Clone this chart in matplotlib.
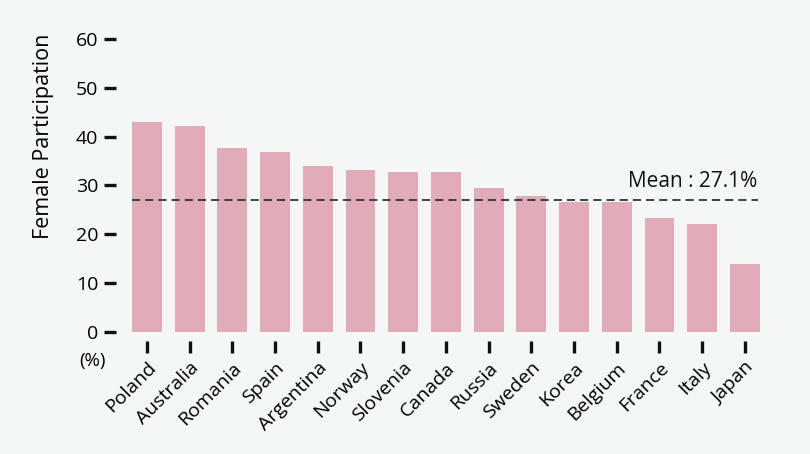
import matplotlib
matplotlib.use("Agg")
import matplotlib.pyplot as plt


# ── Data ─────────────────────────────────────────────────────────────

countries = ["Poland", "Australia", "Romania", "Spain", "Argentina", "Norway",
             "Slovenia", "Canada", "Russia", "Sweden", "Korea", "Belgium",
             "France", "Italy", "Japan"]
participation = [43.0, 42.1, 37.6, 36.8, 34.0, 33.2, 32.75, 32.75, 29.5,
                 27.8, 26.6, 26.6, 23.3, 22.1, 13.9]
mean_value = 27.1
y_ticks = [0, 10, 20, 30, 40, 50, 60]


# ── Plot ─────────────────────────────────────────────────────────────

plt.rcParams["font.family"] = ["Open Sans", "DejaVu Sans"]

bg = "#f5f7f7"
bar_color = "#e2abb8"

fig = plt.figure(figsize=(8.1, 4.54), dpi=100, facecolor=bg)
ax = fig.add_axes([0.155, 0.2698, 0.791, 0.6436], facecolor=bg)

# spines first: set_position resets the tick styling
for side in ["left", "bottom"]:
    ax.spines[side].set_position(("outward", 7))
for side in ["top", "right", "left", "bottom"]:
    ax.spines[side].set_visible(False)

x = list(range(len(countries)))
ax.bar(x, participation, width=0.70, color=bar_color, zorder=1)

# mean line + label
ax.hlines(mean_value, -0.35, 14.3, colors="#333333", linewidth=1.3,
          linestyles=(0, (4.5, 2.8)), zorder=2)
ax.text(14.3, mean_value + 2.5, f"Mean : {mean_value}%", ha="right",
        va="baseline", fontsize=15, color="#111111")

ax.set_xlim(-0.5, len(countries) - 0.5)
ax.set_ylim(0, 60)
ax.set_yticks(y_ticks)
ax.set_xticks(x)
ax.set_xticklabels(countries, rotation=45, ha="right", rotation_mode="anchor",
                   fontsize=14)
ax.tick_params(axis="y", labelsize=14, length=8.6, width=2.4, pad=4,
               color="#111111")
ax.tick_params(axis="x", length=8.6, width=2.4, pad=4, color="#111111")

fig.text(44 / 810, 1 - 136 / 454, "Female Participation", rotation=90,
         ha="center", va="center", fontsize=15.5)
fig.text(93 / 810, 1 - 361 / 454, "(%)", ha="center", va="center",
         fontsize=13.5)

fig.savefig("out.png", dpi=100, facecolor=bg)
